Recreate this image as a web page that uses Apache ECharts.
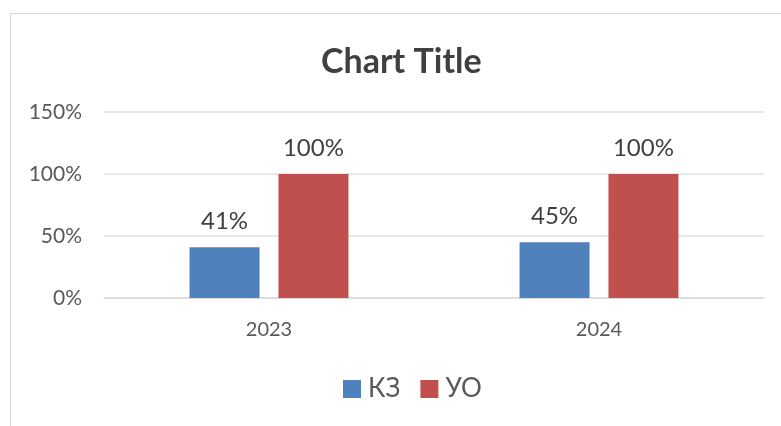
<!DOCTYPE html>
<html>
<head>
<meta charset="utf-8">
<script src="https://cdn.jsdelivr.net/npm/echarts@6/dist/echarts.min.js"></script>
<style>
  html, body { margin: 0; padding: 0; background: #fff; }
  #frame {
    position: absolute; left: 10px; top: 13px;
    width: 800px; height: 440px;
    border: 1px solid #d9d9d9;
  }
  #main { position: absolute; left: 0; top: 0; width: 781px; height: 426px; }
</style>
</head>
<body>
<div id="frame"></div>
<div id="main"></div>
<script>
var years = ["2023", "2024"];
var kz = [0.41, 0.45];
var uo = [1.0, 1.0];

var font = "Lato, 'Open Sans', sans-serif";
var pct = function (v) { return Math.round(v * 100) + "%"; };

var myChart = echarts.init(document.getElementById("main"));
myChart.setOption({
  animation: false,
  title: {
    text: "Chart Title",
    left: 316,
    top: 40,
    textStyle: { fontFamily: font, fontSize: 34, fontWeight: "bold", color: "#404040" }
  },
  legend: {
    bottom: 19,
    left: 338,
    itemWidth: 18,
    itemHeight: 18,
    itemGap: 20,
    icon: "rect",
    textStyle: { fontFamily: font, fontSize: 26, color: "#595959", padding: [0, 0, 0, 2] },
    data: ["КЗ", "УО"]
  },
  grid: { left: 104, right: 17, top: 112, bottom: 128 },
  xAxis: {
    type: "category",
    data: years,
    axisLine: { lineStyle: { color: "#d9d9d9", width: 1.5 } },
    axisTick: { show: false },
    axisLabel: { fontFamily: font, fontSize: 20, color: "#595959", margin: 22 }
  },
  yAxis: {
    type: "value",
    min: 0,
    max: 1.5,
    interval: 0.5,
    axisLine: { show: false },
    axisTick: { show: false },
    splitLine: { lineStyle: { color: "#e0e0e0", width: 1.5 } },
    axisLabel: { fontFamily: font, fontSize: 21, color: "#595959", margin: 22, formatter: pct }
  },
  series: [
    {
      name: "КЗ",
      type: "bar",
      data: kz,
      barWidth: 70,
      barGap: "27%",
      itemStyle: { color: "#4f81bd" },
      label: { show: true, position: "top", distance: 14, fontFamily: font, fontSize: 24, color: "#404040", formatter: function (p) { return pct(p.value); } }
    },
    {
      name: "УО",
      type: "bar",
      data: uo,
      barWidth: 70,
      itemStyle: { color: "#c0504d" },
      label: { show: true, position: "top", distance: 14, fontFamily: font, fontSize: 24, color: "#404040", formatter: function (p) { return pct(p.value); } }
    }
  ]
});
</script>
</body>
</html>
